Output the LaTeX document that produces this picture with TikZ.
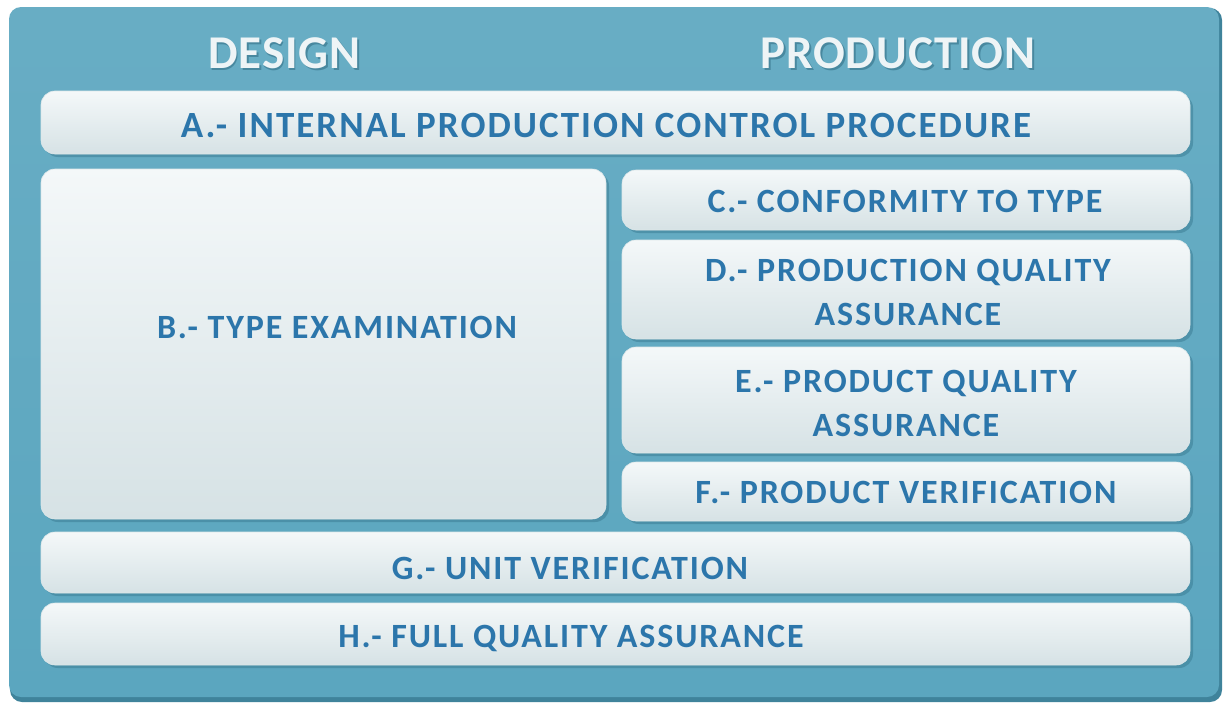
\documentclass[tikz,border=0pt]{standalone}
\usepackage{fontspec}
\setmainfont{Carlito}
\newfontfamily\lblfont{Carlito}[LetterSpace=5.5]
\newfontfamily\headfont{Carlito}[LetterSpace=2]
\usetikzlibrary{shadows}
\definecolor{framefill}{HTML}{5BA6BF}
\definecolor{frameedge}{HTML}{3F839B}
\definecolor{paneltop}{HTML}{F4F8F9}
\definecolor{panelbot}{HTML}{D6E2E5}
\definecolor{panelshadow}{HTML}{3C7E95}
\definecolor{labelblue}{HTML}{2C76AB}
\definecolor{headwhite}{HTML}{EEF4F6}
\definecolor{headshade}{HTML}{3B7990}
\begin{document}
\begin{tikzpicture}[x=1pt,y=-1pt,
  panel/.style={rectangle, rounded corners=14pt, inner sep=0pt,
    top color=paneltop, bottom color=panelbot, draw=panelbot!80!white, line width=0.6pt,
    drop shadow={shadow xshift=3pt, shadow yshift=-3pt, fill=panelshadow, opacity=0.55}},
  lbl/.style={font=\lblfont\bfseries\fontsize{34}{44}\selectfont, text=labelblue, align=center, inner sep=0pt},
  biglbl/.style={lbl, font=\lblfont\bfseries\fontsize{37}{44}\selectfont},
  head/.style={font=\headfont\bfseries\fontsize{47}{52}\selectfont, text=headwhite, inner sep=0pt},
  headsh/.style={font=\headfont\bfseries\fontsize{47}{52}\selectfont, text=headshade, inner sep=0pt, opacity=0.7}]
\useasboundingbox (0,0) rectangle (1224,704);
\fill[white] (0,0) rectangle (1224,704);

% outer frame
\fill[frameedge, rounded corners=12pt] (10,8) rectangle (1222,702);
\node[rectangle, rounded corners=12pt, inner sep=0pt, minimum width=1210pt, minimum height=690pt,
  top color=framefill!92!white, bottom color=framefill] (frame) at (614,352) {};

% column headings
\node[headsh] (designsh) at (286,55) {DESIGN};
\node[head] (design) at (284.5,53) {DESIGN};
\node[headsh] (prodsh) at (900,55) {PRODUCTION};
\node[head] (prod) at (898,53) {PRODUCTION};

% panels
\node[panel, minimum width=1149pt, minimum height=63pt] (A) at (615.5,122.5) {};
\node[panel, minimum width=565pt, minimum height=350pt] (B) at (323.5,344) {};
\node[panel, minimum width=568pt, minimum height=60pt] (C) at (906,200) {};
\node[panel, minimum width=568pt, minimum height=99pt] (D) at (906,289.5) {};
\node[panel, minimum width=568pt, minimum height=106pt] (E) at (906,400) {};
\node[panel, minimum width=568pt, minimum height=59pt] (F) at (906,491.5) {};
\node[panel, minimum width=1149pt, minimum height=61pt] (G) at (615.5,562.5) {};
\node[panel, minimum width=1149pt, minimum height=62pt] (H) at (615.5,634) {};

% labels
\node[biglbl] (Atxt) at (606,126) {A.- INTERNAL PRODUCTION CONTROL PROCEDURE};
\node[lbl] (Btxt) at (337,327) {B.- TYPE EXAMINATION};
\node[lbl] (Ctxt) at (905,201) {C.- CONFORMITY TO TYPE};
\node[lbl] (Dtxt) at (908,292) {D.- PRODUCTION QUALITY\\ASSURANCE};
\node[lbl] (Etxt) at (906,403) {E.- PRODUCT QUALITY\\ASSURANCE};
\node[lbl] (Ftxt) at (906,492) {F.- PRODUCT VERIFICATION};
\node[lbl] (Gtxt) at (570,568) {G.- UNIT VERIFICATION};
\node[lbl] (Htxt) at (571,638) {H.- FULL QUALITY ASSURANCE};
\end{tikzpicture}
\end{document}
